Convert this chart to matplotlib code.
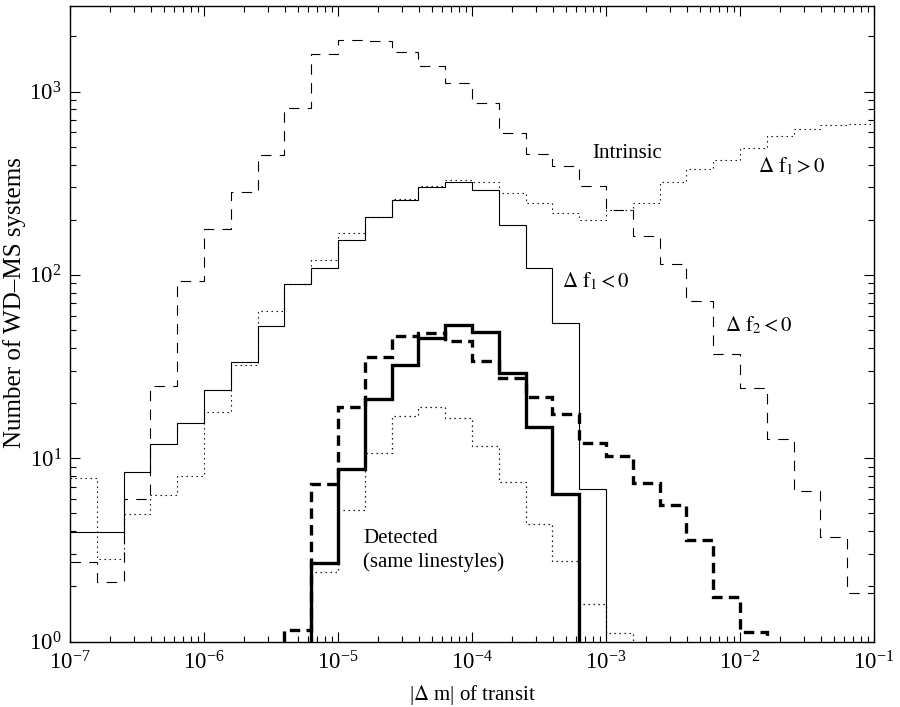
import matplotlib
matplotlib.use("Agg")
import matplotlib.pyplot as plt
import numpy as np

plt.rcParams["font.family"] = ["Liberation Serif", "DejaVu Serif"]
plt.rcParams["mathtext.fontset"] = "stix"
plt.rcParams["lines.scale_dashes"] = False

# bin edges: 0.2 dex from 1e-7 to 1e-1
edges = 10.0 ** np.arange(-7.0, -0.99, 0.2)

# intrinsic populations
intr_f2_neg = [2.7, 2.1, 6.0, 24.9, 93, 177, 284, 450, 809, 1608,
               1923, 1884, 1640, 1387, 1116, 869, 596, 458, 395, 305,
               227, 163, 114, 72, 37, 24.2, 12.8, 6.6, 3.7, 1.84]
intr_f1_neg = [3.97, 3.97, 8.4, 12.0, 15.5, 23.5, 33.4, 52.5, 88.7, 109,
               155, 207, 255, 301, 321, 292, 187, 109, 54.5, 6.75,
               0, 0, 0, 0, 0, 0, 0, 0, 0, 0]
intr_f1_pos = [7.8, 2.83, 4.97, 6.26, 7.98, 17.8, 32.3, 63.4, 88.7, 121,
               170, 207, 258, 305, 331, 321, 281, 247, 218, 200,
               227, 247, 321, 376, 426, 493, 571, 627, 660, 667]

# detected populations
det_f2_neg = [0, 0, 0, 0, 0, 0, 0, 0, 1.15, 7.25,
              19.1, 35.8, 46.7, 48.3, 43.5, 33.8, 27.5, 21.6, 17.5, 12.1,
              10.3, 7.34, 5.55, 3.6, 1.75, 1.12, 0, 0, 0, 0]
det_f1_neg = [0, 0, 0, 0, 0, 0, 0, 0, 0, 2.68,
              8.75, 21.1, 32.2, 45.0, 53.2, 48.7, 29.2, 14.8, 6.34, 0,
              0, 0, 0, 0, 0, 0, 0, 0, 0, 0]
det_f1_pos = [0, 0, 0, 0, 0, 0, 0, 0, 0, 2.38,
              5.2, 10.7, 16.9, 19.1, 16.6, 11.6, 7.4, 4.39, 2.74, 1.61,
              1.11, 0, 0, 0, 0, 0, 0, 0, 0, 0]

DASH = (0, (7.5, 6.0))
DASH_THICK = (0, (7.5, 4.5))
DOT = (0, (1.0, 2.6))


def draw(ax, vals, **kw):
    v = np.asarray(vals, dtype=float)
    v = np.where(v > 0, v, 1e-3)
    ax.stairs(v, edges, baseline=None, color="black", **kw)


fig = plt.figure(figsize=(9.0, 7.07), dpi=100)
ax = fig.add_axes([70 / 900, 1 - 641.5 / 707, 804 / 900, 635.5 / 707])

draw(ax, intr_f2_neg, lw=0.8, linestyle=DASH)
draw(ax, intr_f1_neg, lw=0.8, linestyle="-")
draw(ax, intr_f1_pos, lw=0.8, linestyle=DOT)
draw(ax, det_f2_neg, lw=2.4, linestyle=DASH_THICK)
draw(ax, det_f1_neg, lw=2.4, linestyle="-")
draw(ax, det_f1_pos, lw=0.9, linestyle=DOT)

ax.set_xscale("log")
ax.set_yscale("log")
ax.set_xlim(1e-7, 1e-1)
ax.set_ylim(1, 2930)
ax.tick_params(which="both", direction="in", top=True, right=True,
               labelsize=16.5, width=0.8)
ax.tick_params(which="major", length=7)
ax.tick_params(which="minor", length=4)
ax.tick_params(axis="x", which="major", pad=7)
ax.tick_params(axis="y", which="major", pad=6)
for s in ax.spines.values():
    s.set_linewidth(1.0)

ax.set_xlabel(r"|$\Delta$ m| of transit", fontsize=15)
ax.set_ylabel("Number of WD\u2013MS systems", fontsize=18)
ax.yaxis.set_label_coords(-0.055, 0.533)
ax.xaxis.set_label_coords(0.5, -0.066)

fs = 15
ax.text(7.87e-4, 434, "Intrinsic", fontsize=fs, va="baseline")
ax.text(1.36e-2, 364, r"$\Delta\ \mathrm{f}_1 > 0$", fontsize=fs, va="baseline")
ax.text(4.67e-4, 85.9, r"$\Delta\ \mathrm{f}_1 < 0$", fontsize=fs, va="baseline")
ax.text(7.73e-3, 49.4, r"$\Delta\ \mathrm{f}_2 < 0$", fontsize=fs, va="baseline")
ax.text(1.54e-5, 3.45, "Detected", fontsize=fs, va="baseline")
ax.text(1.54e-5, 2.55, "(same linestyles)", fontsize=fs, va="baseline")

fig.savefig("out.png", dpi=100)
